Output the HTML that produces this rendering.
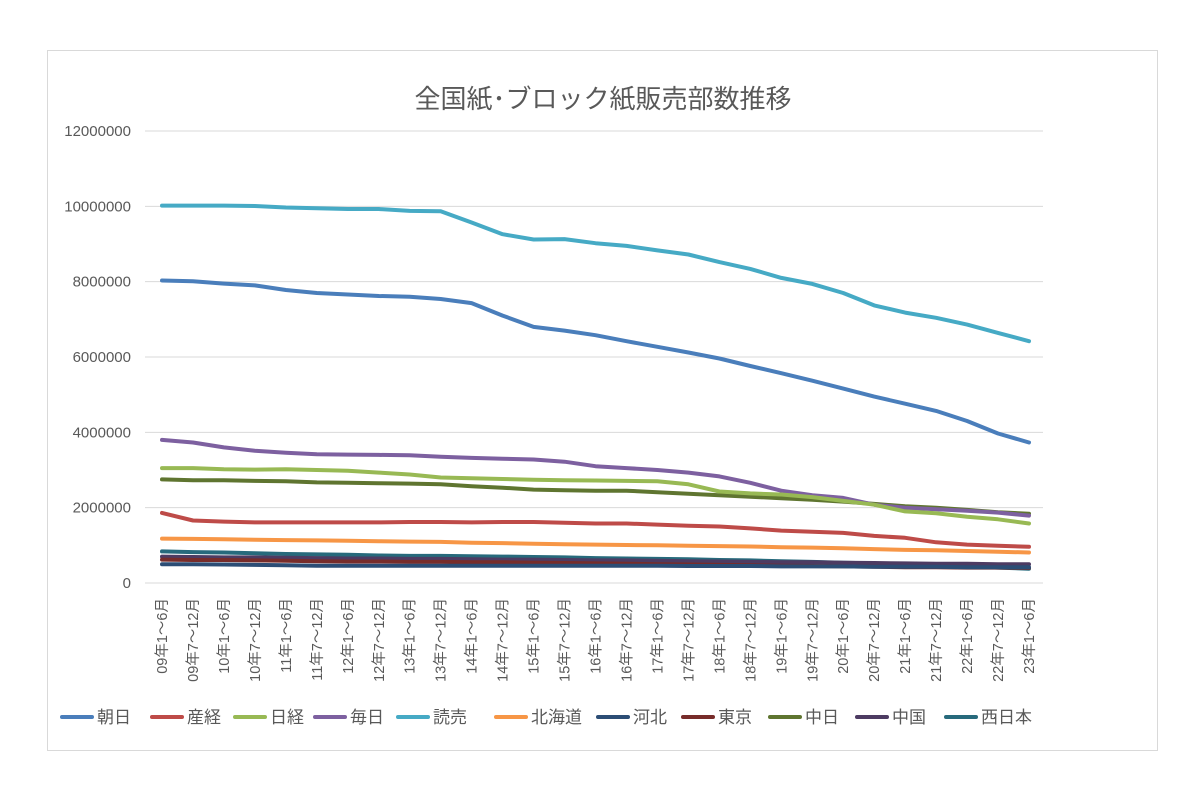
<!DOCTYPE html>
<html><head><meta charset="utf-8"><style>
body{margin:0;background:#fff;font-family:"Liberation Sans","Noto Sans CJK JP",sans-serif}
</style></head><body>
<svg id="c" width="1200" height="800" style="font-family:'Liberation Sans','Noto Sans CJK JP',sans-serif">
<rect x="47.5" y="50.5" width="1110" height="700" fill="#fff" stroke="#d9d9d9"/>
<text x="603" y="108" font-size="26" fill="#595959" text-anchor="middle">全国紙･ブロック紙販売部数推移</text>
<g id="grid"></g><g id="lines"></g><g id="xl"></g><g id="leg"></g>
</svg>
<script>
const categories=[];for(let y=9;y<=23;y++){const s=String(y).padStart(2,'0');categories.push(s+'年1～6月');if(y<23)categories.push(s+'年7～12月');}
const yTicks=[0,2000000,4000000,6000000,8000000,10000000,12000000];
const names=['朝日','産経','日経','毎日','読売','北海道','河北','東京','中日','中国','西日本'];
const colors=['#4a7ebb','#be4b48','#98b954','#7d60a0','#46aac5','#f79646','#2c4d75','#772c2a','#5f7530','#4d3b62','#276a7c'];
const asahi=[8.03,8.01,7.95,7.9,7.78,7.7,7.66,7.62,7.6,7.54,7.43,7.1,6.8,6.7,6.58,6.42,6.27,6.12,5.96,5.76,5.57,5.37,5.16,4.95,4.76,4.57,4.3,3.97,3.73];
const sankei=[1.86,1.66,1.63,1.61,1.61,1.61,1.61,1.61,1.62,1.62,1.61,1.62,1.62,1.6,1.58,1.58,1.55,1.52,1.5,1.45,1.39,1.36,1.33,1.25,1.2,1.08,1.02,0.99,0.96];
const nikkei=[3.05,3.05,3.02,3.01,3.02,3.0,2.98,2.93,2.88,2.8,2.78,2.76,2.74,2.73,2.72,2.71,2.7,2.62,2.43,2.38,2.35,2.28,2.18,2.08,1.9,1.85,1.76,1.69,1.58];
const mainichi=[3.8,3.73,3.6,3.51,3.46,3.42,3.41,3.4,3.39,3.35,3.32,3.3,3.28,3.22,3.1,3.05,3.0,2.93,2.83,2.66,2.45,2.33,2.26,2.08,2.0,1.96,1.92,1.87,1.79];
const yomiuri=[10.02,10.02,10.02,10.01,9.97,9.95,9.93,9.93,9.88,9.87,9.57,9.26,9.12,9.13,9.02,8.95,8.83,8.72,8.52,8.34,8.1,7.94,7.7,7.37,7.18,7.04,6.86,6.64,6.42];
const hokkaido=[1.18,1.17,1.16,1.15,1.14,1.13,1.12,1.11,1.1,1.09,1.07,1.06,1.04,1.03,1.02,1.01,1.0,0.99,0.98,0.97,0.95,0.94,0.92,0.9,0.88,0.87,0.85,0.83,0.81];
const kahoku=[0.5,0.5,0.49,0.48,0.47,0.46,0.46,0.46,0.46,0.46,0.46,0.46,0.46,0.46,0.46,0.46,0.46,0.45,0.45,0.45,0.44,0.44,0.44,0.43,0.43,0.43,0.42,0.42,0.42];
const tokyo=[0.62,0.61,0.61,0.6,0.59,0.58,0.57,0.57,0.56,0.56,0.55,0.55,0.54,0.53,0.52,0.51,0.5,0.49,0.48,0.47,0.46,0.45,0.44,0.43,0.42,0.42,0.41,0.41,0.4];
const chunichi=[2.75,2.73,2.73,2.71,2.7,2.67,2.66,2.65,2.64,2.62,2.57,2.53,2.48,2.46,2.45,2.45,2.41,2.37,2.33,2.29,2.25,2.21,2.16,2.1,2.04,2.0,1.94,1.88,1.84];
const chugoku=[0.7,0.69,0.68,0.68,0.67,0.66,0.65,0.65,0.64,0.64,0.63,0.62,0.62,0.61,0.6,0.6,0.59,0.58,0.57,0.56,0.55,0.55,0.54,0.53,0.52,0.51,0.51,0.5,0.5];
const nishinippon=[0.84,0.82,0.81,0.79,0.77,0.76,0.75,0.73,0.72,0.72,0.71,0.7,0.69,0.68,0.66,0.65,0.64,0.63,0.61,0.6,0.58,0.56,0.54,0.52,0.49,0.46,0.44,0.41,0.38];
const series=[asahi,sankei,nikkei,mainichi,yomiuri,hokkaido,kahoku,tokyo,chunichi,chugoku,nishinippon];
const NS='http://www.w3.org/2000/svg';
function mk(t,a,p){const e=document.createElementNS(NS,t);for(const k in a)e.setAttribute(k,a[k]);p.appendChild(e);return e;}
const x0=162,x1=1029,yb=583,yt=131,ymax=12000000;
const xs=i=>x0+(x1-x0)*i/(categories.length-1);
const ys=v=>yb-(yb-yt)*v/ymax;
const g=document.getElementById('grid');
yTicks.forEach(t=>{const l=mk('line',{x1:145,x2:1043,y1:ys(t),y2:ys(t),stroke:'#d9d9d9','stroke-width':1},g);


const tx=mk('text',{x:131,y:ys(t)+5,'font-size':15,fill:'#595959','text-anchor':'end'},g);tx.textContent=t;

});
const xl=document.getElementById('xl');
categories.forEach((c,i)=>{const t=mk('text',{transform:`translate(${xs(i)+5},598) rotate(-90)`,'font-size':14.5,fill:'#595959','text-anchor':'end'},xl);t.textContent=c;

});
const L=document.getElementById('lines');
for(let s=series.length-1;s>=0;s--){const d=series[s].map((v,i)=>(i?'L':'M')+xs(i).toFixed(1)+','+ys(v*1e6).toFixed(1)).join('');
const p=mk('path',{d:d,fill:'none',stroke:colors[s],'stroke-width':4,'stroke-linejoin':'round','stroke-linecap':'round'},L);

}
const lg=document.getElementById('leg');
const lx=[62,152,235,315,398,496,598,683,770,857,946];
names.forEach((n,i)=>{const l=mk('line',{x1:lx[i],x2:lx[i]+30,y1:717,y2:717,stroke:colors[i],'stroke-width':4,'stroke-linecap':'round'},lg);


const t=mk('text',{x:lx[i]+35,y:723,'font-size':17,fill:'#595959'},lg);t.textContent=n;

});
</script>
</body></html>
